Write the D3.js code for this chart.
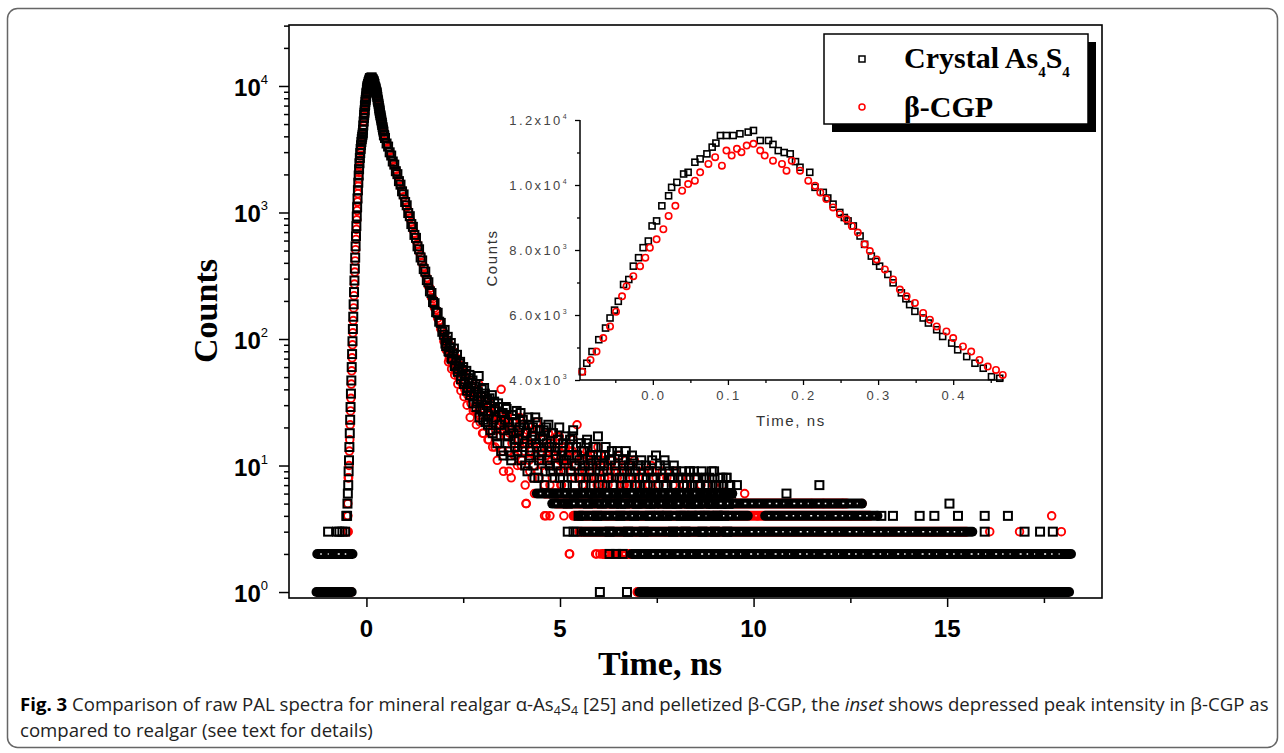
<!DOCTYPE html>
<html>
<head>
<meta charset="utf-8">
<script src="https://cdn.jsdelivr.net/npm/d3@7"></script>
<style>
  body { margin: 0; background: #fff; }
  svg { display: block; }
</style>
</head>
<body>
<svg width="1284" height="753"></svg>
<script>
// ---- data ----

// rising edge, counts per channel, t = riseStart + i*riseStep (ns)
let riseStart = -0.50, riseStep = 0.01;
let crystalRise = [4,5,6,7,9,11,14,18,23,29,37,47,60,76,96,120,150,188,235,290,360,440,540,650,780,930,1100,1290,1500,1720,1960,2200,2450,2700,2950,3180,3400,3610,3800,3970,4120];
let cgpRise = [3,4,5,8,8,10,13,16,21,27,34,44,56,71,90,112,140,176,220,272,338,414,508,612,735,876,1035,1215,1410,1620,1845,2075,2310,2550,2790,3020,3240,3450,3650,3830,4000];

// peak region (also shown in the inset)
let crystalPeakT = [-0.094,-0.088,-0.081,-0.072,-0.063,-0.057,-0.051,-0.046,-0.039,-0.032,-0.026,-0.019,-0.013,-0.006,-0.001,0.005,0.012,0.021,0.025,0.032,0.041,0.047,0.056,0.063,0.072,0.079,0.084,0.090,0.098,0.107,0.116,0.127,0.134,0.143,0.154,0.160,0.167,0.175,0.183,0.190,0.196,0.209,0.216,0.227,0.233,0.240,0.249,0.255,0.260,0.267,0.276,0.282,0.291,0.297,0.302,0.313,0.320,0.331,0.337,0.342,0.349,0.360,0.367,0.378,0.386,0.398,0.406,0.418,0.429,0.440,0.451,0.462];
let crystalPeakC = [4257,4516,4875,5240,5599,5908,6150,6421,6938,7092,7503,7763,8072,8276,8740,8895,9359,9668,9928,10082,10339,10391,10701,10803,10958,11165,11290,11523,11523,11523,11576,11628,11678,11369,11369,11250,11059,11000,10958,10720,10546,10391,9928,9773,9600,9411,9155,9000,8895,8740,8431,8174,7813,7650,7503,7247,6990,6681,6500,6319,6112,5908,5753,5546,5339,5135,4928,4720,4516,4362,4102,4053];
let cgpPeakT = [-0.094,-0.083,-0.075,-0.066,-0.057,-0.049,-0.041,-0.035,-0.026,-0.017,-0.010,-0.004,0.005,0.014,0.021,0.030,0.039,0.047,0.056,0.063,0.074,0.083,0.092,0.098,0.105,0.112,0.118,0.125,0.134,0.143,0.149,0.160,0.172,0.178,0.185,0.196,0.207,0.216,0.223,0.231,0.240,0.249,0.258,0.265,0.273,0.282,0.289,0.298,0.309,0.320,0.329,0.338,0.349,0.360,0.369,0.378,0.391,0.400,0.413,0.424,0.435,0.446,0.457,0.466];
let cgpPeakC = [4257,4618,4875,5289,5648,6100,6576,6885,7194,7503,7763,8072,8329,8638,9050,9359,9823,10030,10132,10391,10648,10855,10596,11059,10905,11112,11010,11214,11266,11059,10905,10750,10648,10441,10750,10441,10132,9977,9773,9566,9309,9102,8948,8740,8536,8174,7967,7711,7401,7092,6783,6576,6372,6062,5855,5648,5494,5289,5030,4875,4618,4412,4309,4155];

// decay, counts per channel, t = decayStart + i*decayStep (ns)
let decayStart = 0.48, decayStep = 0.04;
let crystalDecay = [
  3880,3510,3320,2990,2820,2530,2390,2120,2010,1770,
  1660,1470,1390,1210,1140,990,935,810,770,665,
  630,540,512,441,418,357,341,292,281,238,
  231,196,192,163,161,137,134,114,108,92,
  97,80,86,70,77,61,68,55,64,48,
  57,44,53,39,49,36,45,31,42,29,
  38,24,35,27,41,22,33,25,19,36,
  23,28,17,31,21,13,26,19,29,15,
  22,12,25,18,14,27,16,20,11,23,
  15,18,9,21,13,17,10,24,14,8,
  19,12,16,7,20,11,14,9,18,6,
  13,10,16,8,12,15,7,11,5,14,
  9,17,6,10,12,4,8,13,7,10,
  15,5,9,11,6,8,14,4,7,10,
  5,9,12,6,8,3,11,7,5,9,
  13,6,4,8,10,5,7,3,9,6,
  11,4,7,5,8,10,6,3,7,5,
  9,4,6,8,5,12,6,4,8,5,
  7,10,4,6,8,5,3,7,9,5,
  6,4,8,6,3,7,5,9,4,6,
  8,5,7,4,6,3,8,5,7,4,
  6,9,5,3,7,4,6,5,8,4,
  6,3,5,7
];
let cgpDecay = [
  3900,3600,3250,3050,2750,2580,2330,2180,1940,1820,
  1610,1500,1330,1250,1100,1030,900,845,735,690,
  600,565,488,462,398,375,322,306,262,252,
  213,208,176,171,146,140,120,117,96,101,
  84,66,78,58,71,52,63,44,57,39,
  52,35,47,30,42,24,39,27,35,21,
  33,25,30,18,28,22,26,16,31,19,
  24,14,27,20,23,40,13,21,17,25,
  9,19,15,22,12,18,14,24,10,16,
  13,5,19,11,15,8,17,12,22,9,
  14,11,16,7,4,13,10,15,8,12,
  6,17,9,11,7,14,10,5,12,2,
  9,13,6,10,21,8,5,11,7,9,
  4,12,6,8,10,5,2,7,9,4,
  11,6,8,3,7,10,5,6,9,4,
  8,12,5,7,3,6,9,4,7,5,
  8,11,3,6,8,4,6,9,5,3,
  7,5,10,4,6,8,5,7,4,9,
  6,3,8,5,6,4,7,9,5,3,
  6,8,4,7,5,6,3,8,5,7,
  4,6,5,3,7,4,6,8,5,3,
  6,4,7,5,3,6,4,5,7,3,
  5,4,6,3
];

// in-between channels of the tail, t = tailStart + i*decayStep (ns)
let tailStart = 2.02;
let crystalTail = [
  118,88,104,79,93,70,84,62,75,58,
  66,51,60,46,56,41,52,38,47,35,
  44,32,51,28,40,23,37,30,21,34,
  27,18,32,24,15,29,21,26,12,23,
  28,17,20,11,25,16,22,13,19,26,
  14,21,10,18,24,12,16,20,8,15,
  22,11,17,13,19,9,15,21,10,14,
  18,8,12,16,20,9,13,11,17,7,
  12,16,8,19,10,14,6,11,15,9,
  13,7,16,10,12,8,14,6,11,17,
  9,12,7,10,14,6,8,11,13,7,
  10,6,12,8,5,11,9,13,7,10,
  8,12,6,9,5,10,7,11,8,6,
  10,7,9,5,11,8,6,9,7,10,
  6,8,11,7,5,9,6,8,10,7,
  5,8,6,9,7,4,8,6,9,5,
  7,9,6,8,5,7,9,6,4,8,
  6,8,5,7,9,6,4,7,8,5,
  7,6,8,5,7,6
];
let cgpTail = [
  110,82,96,70,88,64,79,56,70,50,
  62,45,55,40,50,36,46,31,42,28,
  38,26,44,22,35,18,32,25,16,29,
  23,14,28,19,11,25,17,22,9,20,
  24,13,18,8,22,12,19,10,16,23,
  11,18,7,15,21,9,13,17,6,12,
  19,8,14,10,16,6,12,18,7,11,
  15,6,10,13,17,7,11,9,14,5,
  10,13,6,16,8,12,4,9,12,7,
  11,5,13,8,10,6,12,4,9,14,
  7,10,5,8,12,4,6,9,11,5,
  8,4,10,6,3,9,7,11,5,8,
  6,10,4,7,3,8,5,9,6,4,
  8,5,7,3,9,6
];

// low-count rows where channels merge into solid bands: [counts, from ns, to ns]
let crystalRuns = [[1,-1.29,-0.38],[2,-1.27,-0.36],[1,7.05,18.15],[2,6.85,18.2],[3,5.6,15.65],[4,5.5,9.85],[4,10.3,13.2],[5,4.8,12.8],[6,4.4,9.45]];
let cgpRuns = [[1,-1.25,-0.4],[2,-1.2,-0.45],[1,7.0,18.1],[2,6.1,18.0],[3,5.5,15.5],[4,5.35,13.0],[5,4.9,12.4],[6,4.6,9.2]];

// isolated channels [ns, counts]
let crystalExtra = [[-0.99,3],[-0.76,3],[-0.70,3],[-0.62,3],[-0.55,3],[-0.52,4],[5.2,3],[5.35,3],[5.45,3],
  [6.03,1],[6.73,1],[6.28,2],[6.45,2],[6.62,2],[9.3,8],[9.57,7],[10.85,6],[11.7,7],[15.06,5],
  [13.3,4],[13.6,4],[14.29,4],[14.67,4],[15.28,4],[15.97,4],[16.57,4],[15.97,3],[17.0,3],[17.4,3],[17.73,3]];
let cgpExtra = [[-0.68,1],[-0.51,2],[-0.47,3],[-0.48,4],[4.13,5],[4.6,4],[4.74,4],[5.1,4],[5.25,2],[5.95,2],[6.03,2],
  [9.77,6],[10.1,4],[11.5,5],[11.8,5],[12.3,5],[12.8,5],[11.8,4],[12.05,4],[12.5,4],[12.85,4],[17.7,4],
  [10.75,3],[13.38,3],[13.97,3],[14.6,3],[16.1,3],[16.87,3],[17.95,3]];

let xTicks = [0, 5, 10, 15];
let xMinor = [2.5, 7.5, 12.5, 17.5];
let yExps = [0, 1, 2, 3, 4];

let insetXTicks = [0, 0.1, 0.2, 0.3, 0.4];
let insetXLabels = ["0.0", "0.1", "0.2", "0.3", "0.4"];
let insetXMinor = [-0.05, 0.05, 0.15, 0.25, 0.35, 0.45];
let insetYTicks = [4000, 6000, 8000, 10000, 12000];
let insetYLabels = ["4.0x10", "6.0x10", "8.0x10", "1.0x10", "1.2x10"];
let insetYExps = ["3", "3", "3", "4", "4"];
let insetYMinor = [5000, 7000, 9000, 11000];

let legendNames = ["Crystal As", "β-CGP"];

// ---- build point lists ----
function buildSeries(rise, peakT, peakC, decay, tail, extra) {
  let pts = [];
  rise.forEach((c, i) => pts.push({ t: riseStart + i * riseStep, c: c }));
  peakT.forEach((t, i) => pts.push({ t: t, c: peakC[i] }));
  decay.forEach((c, i) => pts.push({ t: decayStart + i * decayStep, c: c }));
  tail.forEach((c, i) => pts.push({ t: tailStart + i * decayStep, c: c }));
  extra.forEach(d => pts.push({ t: d[0], c: d[1] }));
  return pts;
}
let crystalPts = buildSeries(crystalRise, crystalPeakT, crystalPeakC, crystalDecay, crystalTail, crystalExtra);
let cgpPts = buildSeries(cgpRise, cgpPeakT, cgpPeakC, cgpDecay, cgpTail, cgpExtra);

let svg = d3.select("svg");

// outer frame
svg.append("rect")
  .attr("x", 7.5).attr("y", 8.5).attr("width", 1270).attr("height", 739)
  .attr("rx", 10).attr("ry", 10)
  .attr("fill", "none").attr("stroke", "#666").attr("stroke-width", 1.5);

// ---- main plot ----
let pLeft = 289, pRight = 1102, pTop = 25, pBottom = 598;

let x = d3.scaleLinear().domain([-2, 19]).range([pLeft, pRight]);
let y = d3.scaleLog().domain([0.897, 30340]).range([pBottom, pTop]);

let minorY = [];
for (let e = 0; e <= 4; e++) {
  for (let m = 2; m <= 9; m++) {
    let v = m * Math.pow(10, e);
    if (v < 30340) minorY.push(v);
  }
}

let plot = svg.append("g");

// runs and points, red first so black ends up on top
function drawRuns(runs, color) {
  plot.append("g").selectAll("line")
    .data(runs).enter().append("line")
    .attr("x1", d => x(d[1])).attr("x2", d => x(d[2]))
    .attr("y1", d => y(d[0])).attr("y2", d => y(d[0]))
    .attr("stroke", color).attr("stroke-width", 10).attr("stroke-linecap", "round");
  plot.append("g").selectAll("line")
    .data(runs.filter(d => d[0] > 1)).enter().append("line")
    .attr("x1", d => x(d[1]) + 3).attr("x2", d => x(d[2]) - 3)
    .attr("y1", d => y(d[0])).attr("y2", d => y(d[0]))
    .attr("stroke", "#fff").attr("stroke-width", 1.5)
    .attr("stroke-dasharray", "1.5 6 1 9 2 5");
}

drawRuns(cgpRuns, "#f00");
plot.append("g").selectAll("circle")
  .data(cgpPts).enter().append("circle")
  .attr("cx", d => x(d.t)).attr("cy", d => y(d.c)).attr("r", 3.8)
  .attr("fill", "none").attr("stroke", "#f00").attr("stroke-width", 1.9);

drawRuns(crystalRuns, "#000");
plot.append("g").selectAll("rect")
  .data(crystalPts).enter().append("rect")
  .attr("x", d => x(d.t) - 4).attr("y", d => y(d.c) - 4)
  .attr("width", 8).attr("height", 8)
  .attr("fill", "none").attr("stroke", "#000").attr("stroke-width", 2);

// axes
let axisLeftMajor = d3.axisLeft(y).tickValues(yExps.map(e => Math.pow(10, e))).tickSize(10).tickSizeOuter(0).tickFormat("");
let axisLeftMinor = d3.axisLeft(y).tickValues(minorY).tickSize(5).tickSizeOuter(0).tickFormat("");
svg.append("g").attr("transform", `translate(${pLeft},0)`).call(axisLeftMajor);
svg.append("g").attr("transform", `translate(${pLeft},0)`).call(axisLeftMinor);

let axisBottomMajor = d3.axisBottom(x).tickValues(xTicks).tickSize(9).tickSizeOuter(0).tickFormat("");
let axisBottomMinor = d3.axisBottom(x).tickValues(xMinor).tickSize(5).tickSizeOuter(0).tickFormat("");
svg.append("g").attr("transform", `translate(0,${pBottom})`).call(axisBottomMajor);
svg.append("g").attr("transform", `translate(0,${pBottom})`).call(axisBottomMinor);

svg.selectAll(".domain").remove();
svg.selectAll(".tick line").attr("stroke", "#000").attr("stroke-width", 1.5);

svg.append("rect")
  .attr("x", pLeft).attr("y", pTop).attr("width", pRight - pLeft).attr("height", pBottom - pTop)
  .attr("fill", "none").attr("stroke", "#000").attr("stroke-width", 1.6);

// y tick labels 10^n
let yLab = svg.append("g").selectAll("text")
  .data(yExps).enter().append("text")
  .attr("x", 268).attr("y", d => y(Math.pow(10, d)) + 10)
  .attr("text-anchor", "end")
  .style("font-family", "'Liberation Sans', Arial, sans-serif")
  .style("font-size", "24px").style("font-weight", "bold").style("fill", "#000");
yLab.append("tspan").text("10");
yLab.append("tspan").attr("dy", -12).style("font-size", "13px").style("font-weight", "normal").text(d => d);

// x tick labels
svg.append("g").selectAll("text")
  .data(xTicks).enter().append("text")
  .attr("x", d => x(d)).attr("y", 637)
  .attr("text-anchor", "middle")
  .style("font-family", "'Liberation Sans', Arial, sans-serif")
  .style("font-size", "24px").style("font-weight", "bold")
  .text(d => d);

// axis titles
svg.append("text")
  .attr("x", 660).attr("y", 675).attr("text-anchor", "middle")
  .style("font-family", "'Liberation Serif', 'Times New Roman', serif")
  .style("font-size", "34px").style("font-weight", "bold")
  .text("Time, ns");
svg.append("text")
  .attr("transform", "translate(217,311) rotate(-90)")
  .attr("text-anchor", "middle")
  .style("font-family", "'Liberation Serif', 'Times New Roman', serif")
  .style("font-size", "34px").style("font-weight", "bold")
  .text("Counts");

// ---- legend ----
let lg = svg.append("g");
lg.append("rect").attr("x", 832).attr("y", 42).attr("width", 264).attr("height", 90).attr("fill", "#000");
lg.append("rect").attr("x", 824).attr("y", 34).attr("width", 264).attr("height", 90)
  .attr("fill", "#fff").attr("stroke", "#000").attr("stroke-width", 1.5);
lg.append("rect").attr("x", 859).attr("y", 56).attr("width", 6).attr("height", 6)
  .attr("fill", "none").attr("stroke", "#000").attr("stroke-width", 1.5);
lg.append("circle").attr("cx", 862).attr("cy", 107).attr("r", 3)
  .attr("fill", "none").attr("stroke", "#f00").attr("stroke-width", 1.5);
let legFont = "'Liberation Serif', 'Times New Roman', serif";
let l1 = lg.append("text").attr("x", 904).attr("y", 68)
  .style("font-family", legFont).style("font-size", "30px").style("font-weight", "bold");
l1.append("tspan").text(legendNames[0]);
l1.append("tspan").attr("dy", 9).style("font-size", "15px").text("4");
l1.append("tspan").attr("dy", -9).text("S");
l1.append("tspan").attr("dy", 9).style("font-size", "15px").text("4");
lg.append("text").attr("x", 904).attr("y", 117)
  .style("font-family", legFont).style("font-size", "30px").style("font-weight", "bold")
  .text(legendNames[1]);

// ---- inset ----
let iLeft = 580, iRight = 1003.5, iTop = 120, iBottom = 380;
let ix = d3.scaleLinear().domain([-0.097, 0.467]).range([iLeft, iRight]);
let iy = d3.scaleLinear().domain([4000, 12000]).range([iBottom, iTop]);
let inset = svg.append("g");

let cgpInset = cgpPeakT.map((t, i) => ({ t: t, c: cgpPeakC[i] }));
let crystalInset = crystalPeakT.map((t, i) => ({ t: t, c: crystalPeakC[i] }));

inset.append("g").selectAll("rect")
  .data(crystalInset).enter().append("rect")
  .attr("x", d => ix(d.t) - 3).attr("y", d => iy(d.c) - 3)
  .attr("width", 6).attr("height", 6)
  .attr("fill", "none").attr("stroke", "#000").attr("stroke-width", 1.6);
inset.append("g").selectAll("circle")
  .data(cgpInset).enter().append("circle")
  .attr("cx", d => ix(d.t)).attr("cy", d => iy(d.c)).attr("r", 3.2)
  .attr("fill", "none").attr("stroke", "#f00").attr("stroke-width", 1.6);

let iAxes = inset.append("g");
iAxes.append("g").attr("transform", `translate(${iLeft},0)`)
  .call(d3.axisLeft(iy).tickValues(insetYTicks).tickSize(5).tickSizeOuter(0).tickFormat(""));
iAxes.append("g").attr("transform", `translate(${iLeft},0)`)
  .call(d3.axisLeft(iy).tickValues(insetYMinor).tickSize(3).tickSizeOuter(0).tickFormat(""));
iAxes.append("g").attr("transform", `translate(0,${iBottom})`)
  .call(d3.axisBottom(ix).tickValues(insetXTicks).tickSize(5).tickSizeOuter(0).tickFormat(""));
iAxes.append("g").attr("transform", `translate(0,${iBottom})`)
  .call(d3.axisBottom(ix).tickValues(insetXMinor).tickSize(3).tickSizeOuter(0).tickFormat(""));
iAxes.selectAll(".domain").remove();
iAxes.selectAll(".tick line").attr("stroke", "#000").attr("stroke-width", 1.3);
iAxes.append("line").attr("x1", iLeft).attr("x2", iLeft).attr("y1", iTop).attr("y2", iBottom)
  .attr("stroke", "#000").attr("stroke-width", 1.5);
iAxes.append("line").attr("x1", iLeft).attr("x2", iRight).attr("y1", iBottom).attr("y2", iBottom)
  .attr("stroke", "#000").attr("stroke-width", 1.5);

let iFont = "'Liberation Sans', Arial, sans-serif";
let iyLab = inset.append("g").selectAll("text")
  .data(insetYTicks).enter().append("text")
  .attr("x", 569).attr("y", d => iy(d) + 5)
  .attr("text-anchor", "end")
  .style("font-family", iFont).style("font-size", "13px")
  .style("letter-spacing", "2.4px").style("fill", "#444");
iyLab.append("tspan").text((d, i) => insetYLabels[i]);
iyLab.append("tspan").attr("dy", -6).style("font-size", "7px").text((d, i) => insetYExps[i]);

inset.append("g").selectAll("text")
  .data(insetXTicks).enter().append("text")
  .attr("x", d => ix(d) + 1).attr("y", 400)
  .attr("text-anchor", "middle")
  .style("font-family", iFont).style("font-size", "13px")
  .style("letter-spacing", "2.4px").style("fill", "#444")
  .text((d, i) => insetXLabels[i]);

inset.append("text")
  .attr("x", 791).attr("y", 426).attr("text-anchor", "middle")
  .style("font-family", iFont).style("font-size", "15px")
  .style("letter-spacing", "1.6px").style("fill", "#333")
  .text("Time, ns");
inset.append("text")
  .attr("transform", "translate(497,258) rotate(-90)")
  .attr("text-anchor", "middle")
  .style("font-family", iFont).style("font-size", "15px")
  .style("letter-spacing", "1.6px").style("fill", "#333")
  .text("Counts");

// ---- caption ----
let capFont = "'Open Sans', 'Noto Sans', sans-serif";
let cap1 = svg.append("text")
  .style("font-family", capFont).style("font-size", "18px").style("fill", "#222");
cap1.append("tspan").style("font-weight", "bold").style("fill", "#000").text("Fig. 3");
cap1.append("tspan").text(" Comparison of raw PAL spectra for mineral realgar α-As");
cap1.append("tspan").attr("dy", 4).style("font-size", "12px").text("4");
cap1.append("tspan").attr("dy", -4).text("S");
cap1.append("tspan").attr("dy", 4).style("font-size", "12px").text("4");
cap1.append("tspan").attr("dy", -4).text(" [25] and pelletized β-CGP, the ");
cap1.append("tspan").style("font-style", "italic").text("inset");
cap1.append("tspan").text(" shows depressed peak intensity in β-CGP as");

let cap2 = svg.append("text")
  .style("font-family", capFont).style("font-size", "18px").style("fill", "#222")
  .text("compared to realgar (see text for details)");

let sx = 1250 / cap1.node().getComputedTextLength();
cap1.attr("transform", `translate(20,711) scale(${sx},1)`);
cap2.attr("transform", `translate(20,737) scale(${sx},1)`);
</script>
</body>
</html>
